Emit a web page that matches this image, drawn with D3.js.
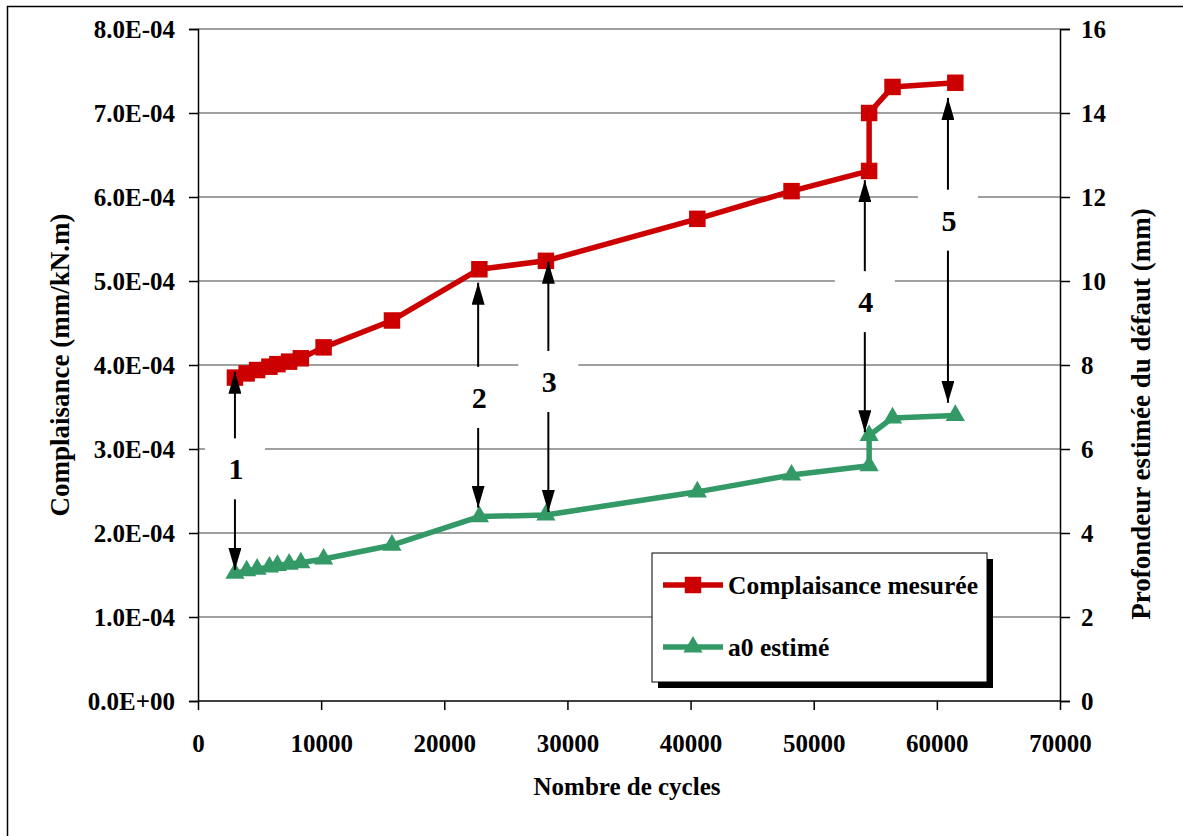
<!DOCTYPE html>
<html><head><meta charset="utf-8">
<script src="https://cdn.jsdelivr.net/npm/d3@7"></script>
<style>
body{margin:0;background:#fff;}
svg text{font-family:"Liberation Serif","Times New Roman",serif;font-weight:bold;fill:#000;}
</style></head>
<body>
<svg id="chart" width="1183" height="836"></svg>
<script>
// ---- data ----
const cycles = [3000, 3950, 4800, 5800, 6450, 7400, 8350, 10200, 15750, 22850, 28250, 40550, 48200, 54500, 54500, 56400, 61500];
const complaisance = [3.85e-4, 3.90e-4, 3.94e-4, 3.98e-4, 4.01e-4, 4.04e-4, 4.08e-4, 4.21e-4, 4.53e-4, 5.14e-4, 5.24e-4, 5.74e-4, 6.07e-4, 6.31e-4, 7.00e-4, 7.31e-4, 7.36e-4];
const a0 = [3.04, 3.10, 3.14, 3.19, 3.23, 3.26, 3.29, 3.38, 3.71, 4.39, 4.43, 4.98, 5.38, 5.60, 6.32, 6.74, 6.80];
const xTicks = [0, 10000, 20000, 30000, 40000, 50000, 60000, 70000];
const yTicks = [0, 1e-4, 2e-4, 3e-4, 4e-4, 5e-4, 6e-4, 7e-4, 8e-4];
const y2Ticks = [0, 2, 4, 6, 8, 10, 12, 14, 16];
const seriesNames = ["Complaisance mesurée", "a0 estimé"];
// annotations: cycle position, label, label centre / arrow tips (left-axis units)
const annLabels = ["1", "2", "3", "4", "5"];
const annX = [3000, 22750, 28450, 54150, 60900];
const annLabelY = [2.77e-4, 3.62e-4, 3.81e-4, 4.76e-4, 5.73e-4];
const annUpTip = [3.92e-4, 4.98e-4, 5.23e-4, 6.20e-4, 7.18e-4];
const annDownTip = [1.56e-4, 2.30e-4, 2.25e-4, 3.20e-4, 3.55e-4];

const RED = "#CC0000", GREEN = "#339966";
const svg = d3.select("#chart");
const L = 198, R = 1060, T = 29, B = 701;
const x = d3.scaleLinear().domain([0, 70000]).range([L, R]);
const y = d3.scaleLinear().domain([0, 8e-4]).range([B, T]);
const y2 = d3.scaleLinear().domain([0, 16]).range([B, T]);

// outer frame
svg.append("rect").attr("x", 7.5).attr("y", 6.5).attr("width", 1200).attr("height", 900)
  .attr("fill", "none").attr("stroke", "#000").attr("stroke-width", 1.5);

// gridlines
svg.append("g").selectAll("line").data(yTicks.slice(1)).join("line")
  .attr("x1", L).attr("x2", R).attr("y1", d => y(d)).attr("y2", d => y(d))
  .attr("stroke", "#808080").attr("stroke-width", 1.5);

// axes
const fmtE = d => d === 0 ? "0.0E+00" : (d / 1e-4).toFixed(1) + "E-04";
const gL = svg.append("g").attr("transform", `translate(${L},0)`)
  .call(d3.axisLeft(y).tickValues(yTicks).tickFormat(fmtE).tickSize(9).tickPadding(14));
const gR = svg.append("g").attr("transform", `translate(${R},0)`)
  .call(d3.axisRight(y2).tickValues(y2Ticks).tickFormat(d3.format("d")).tickSize(10).tickPadding(11));
const gX = svg.append("g").attr("transform", `translate(0,${B})`)
  .call(d3.axisBottom(x).tickValues(xTicks).tickFormat(d3.format("d")).tickSize(9).tickPadding(24));
[gL, gR, gX].forEach(g => {
  g.select(".domain").attr("stroke", "#000").attr("stroke-width", 1.5);
  g.selectAll(".tick line").attr("stroke", "#000").attr("stroke-width", 1.5);
  g.selectAll(".tick text").style("font-size", "25px").style("font-family", '"Liberation Serif","Times New Roman",serif').style("font-weight", "bold");
});
gX.select(".domain").attr("d", `M${L},0H${R}`);

// axis titles
svg.append("text").attr("transform", "translate(69,365) rotate(-90)").attr("text-anchor", "middle")
  .style("font-size", "27px").text("Complaisance (mm/kN.m)");
svg.append("text").attr("transform", "translate(1150,414) rotate(-90)").attr("text-anchor", "middle")
  .style("font-size", "27px").text("Profondeur estimée du défaut (mm)");
svg.append("text").attr("x", 627).attr("y", 795).attr("text-anchor", "middle")
  .style("font-size", "25px").text("Nombre de cycles");

// series
const red = cycles.map((c, i) => [x(c), y(complaisance[i])]);
const green = cycles.map((c, i) => [x(c), y2(a0[i])]);
const line = d3.line();
svg.append("path").attr("d", line(red)).attr("fill", "none").attr("stroke", RED).attr("stroke-width", 5.5).attr("stroke-linejoin", "round");
svg.append("path").attr("d", line(green)).attr("fill", "none").attr("stroke", GREEN).attr("stroke-width", 5.5).attr("stroke-linejoin", "round");
const sq = d3.symbol().type(d3.symbolSquare).size(272);
const tri = d3.symbol().type(d3.symbolTriangle).size(160);
svg.append("g").selectAll("path").data(red).join("path")
  .attr("d", sq).attr("transform", d => `translate(${d[0]},${d[1]})`).attr("fill", RED);
svg.append("g").selectAll("path").data(green).join("path")
  .attr("d", tri).attr("transform", d => `translate(${d[0]},${d[1]})`).attr("fill", GREEN);

// annotations
const defs = svg.append("defs");
defs.append("marker").attr("id", "ah").attr("viewBox", "0 0 22 13").attr("refX", 22).attr("refY", 6.5)
  .attr("markerUnits", "userSpaceOnUse").attr("markerWidth", 22).attr("markerHeight", 13).attr("orient", "auto")
  .append("path").attr("d", "M0,0 L22,6.5 L0,13 Z").attr("fill", "#000");
const ann = svg.append("g");
annLabels.forEach((lab, i) => {
  const ax = x(annX[i]), cy = y(annLabelY[i]);
  ann.append("rect").attr("x", ax - 30).attr("y", cy - 30).attr("width", 60).attr("height", 61).attr("fill", "#fff");
  ann.append("line").attr("x1", ax).attr("x2", ax).attr("y1", cy - 30).attr("y2", y(annUpTip[i]))
    .attr("stroke", "#000").attr("stroke-width", 2).attr("marker-end", "url(#ah)");
  ann.append("line").attr("x1", ax).attr("x2", ax).attr("y1", cy + 31).attr("y2", y(annDownTip[i]))
    .attr("stroke", "#000").attr("stroke-width", 2).attr("marker-end", "url(#ah)");
  ann.append("text").attr("x", ax + 1).attr("y", cy + 11).attr("text-anchor", "middle")
    .style("font-size", "30px").text(lab);
});

// legend
const lg = svg.append("g");
lg.append("rect").attr("x", 658).attr("y", 559).attr("width", 335).attr("height", 129).attr("fill", "#000");
lg.append("rect").attr("x", 652).attr("y", 553).attr("width", 335).attr("height", 129).attr("fill", "#fff").attr("stroke", "#000").attr("stroke-width", 1);
const legY = [585, 647];
const legCol = [RED, GREEN];
legY.forEach((ly, i) => {
  lg.append("line").attr("x1", 663).attr("x2", 723).attr("y1", ly).attr("y2", ly).attr("stroke", legCol[i]).attr("stroke-width", 5.5);
  lg.append("path").attr("d", i === 0 ? sq() : tri()).attr("transform", `translate(693,${ly})`).attr("fill", legCol[i]);
  lg.append("text").attr("x", 728).attr("y", ly + 9).style("font-size", "25.5px").text(seriesNames[i]);
});
</script>
</body></html>
